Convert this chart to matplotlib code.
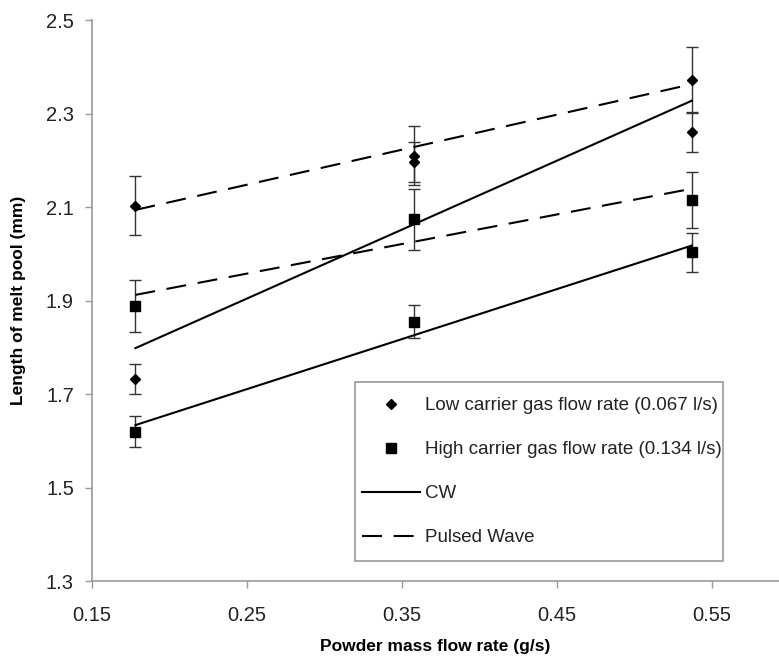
import numpy as np
import matplotlib
matplotlib.use("Agg")
import matplotlib.pyplot as plt
from matplotlib.lines import Line2D
from matplotlib.patches import Rectangle

plt.rcParams['font.family'] = ['Liberation Sans', 'DejaVu Sans']

# Data
powder_rate = [0.178, 0.358, 0.537]

low_pw = [2.103, 2.210, 2.372]
low_pw_err = [0.063, 0.064, 0.071]
low_cw = [1.732, 2.196, 2.261]
low_cw_err = [0.033, 0.042, 0.043]

high_pw = [1.888, 2.074, 2.115]
high_pw_err = [0.055, 0.065, 0.060]
high_cw = [1.619, 1.855, 2.003]
high_cw_err = [0.033, 0.036, 0.042]

x_ticks = [0.15, 0.25, 0.35, 0.45, 0.55]
y_ticks = [1.3, 1.5, 1.7, 1.9, 2.1, 2.3, 2.5]

W, H = 779, 657
fig = plt.figure(figsize=(W/100, H/100), dpi=100)
ax = fig.add_axes([92/W, 76/H, 1 - 92/W, (581-20)/H])

x = np.array(powder_rate)
dash = (0, (9.6, 5.6))

series = [
    (low_pw, low_pw_err, 'D', 5.0, dash),
    (low_cw, low_cw_err, 'D', 5.0, '-'),
    (high_pw, high_pw_err, 's', 6.5, dash),
    (high_cw, high_cw_err, 's', 6.5, '-'),
]

for y, e, m, ms, ls in series:
    y = np.array(y)
    ax.errorbar(x, y, yerr=e, fmt='none', ecolor='#333333', elinewidth=1.0,
                capsize=4, capthick=1.0, zorder=2)
    ax.plot(x, y, linestyle='none', marker=m, markersize=ms, color='black', zorder=3)
    k, b = np.polyfit(x, y, 1)
    xs = np.array([x.min(), x.max()])
    ax.plot(xs, k * xs + b, color='black', linewidth=1.5, linestyle=ls, zorder=4)

ax.set_xlim(0.15, 0.15 + 687/1550)
ax.set_ylim(1.3, 2.5)
ax.set_xticks(x_ticks)
ax.set_xticklabels([f"{v:.2f}" for v in x_ticks])
ax.set_yticks(y_ticks)
ax.set_yticklabels([f"{v:.1f}" for v in y_ticks])

for s in ['top', 'right']:
    ax.spines[s].set_visible(False)
for s in ['left', 'bottom']:
    ax.spines[s].set_color('#999999')
    ax.spines[s].set_linewidth(1.2)

ax.tick_params(axis='both', direction='out', length=5, width=1, color='#999999',
               labelsize=14.5, labelcolor='#222222')
ax.tick_params(axis='x', pad=13)
ax.tick_params(axis='y', pad=8)

ax.set_xlabel('Powder mass flow rate (g/s)', fontsize=12.5, fontweight='bold', labelpad=10)
ax.set_ylabel('Length of melt pool (mm)', fontsize=12.5, fontweight='bold', labelpad=14)

handles = [
    Line2D([], [], linestyle='none', marker='D', markersize=5.0, color='black'),
    Line2D([], [], linestyle='none', marker='s', markersize=6.5, color='black'),
    Line2D([], [], linestyle='-', color='black', linewidth=1.5),
    Line2D([], [], linestyle=dash, color='black', linewidth=1.5),
]
labels = ['Low carrier gas flow rate (0.067 l/s)',
          'High carrier gas flow rate (0.134 l/s)',
          'CW', 'Pulsed Wave']
leg = ax.legend(handles, labels, loc='upper left',
                bbox_to_anchor=(362/W, 1 - 397/H), bbox_transform=fig.transFigure,
                borderaxespad=0, fontsize=13.5, frameon=False,
                handlelength=3.1, handletextpad=0.27,
                labelspacing=1.44, borderpad=0, numpoints=1)
for t in leg.get_texts():
    t.set_color('#222222')

frame = Rectangle((355/W, 1 - 561/H), (723-355)/W, (561-382)/H,
                  transform=fig.transFigure, fill=False, edgecolor='#999999',
                  linewidth=1.2)
fig.add_artist(frame)

fig.savefig('out.png', dpi=100)
